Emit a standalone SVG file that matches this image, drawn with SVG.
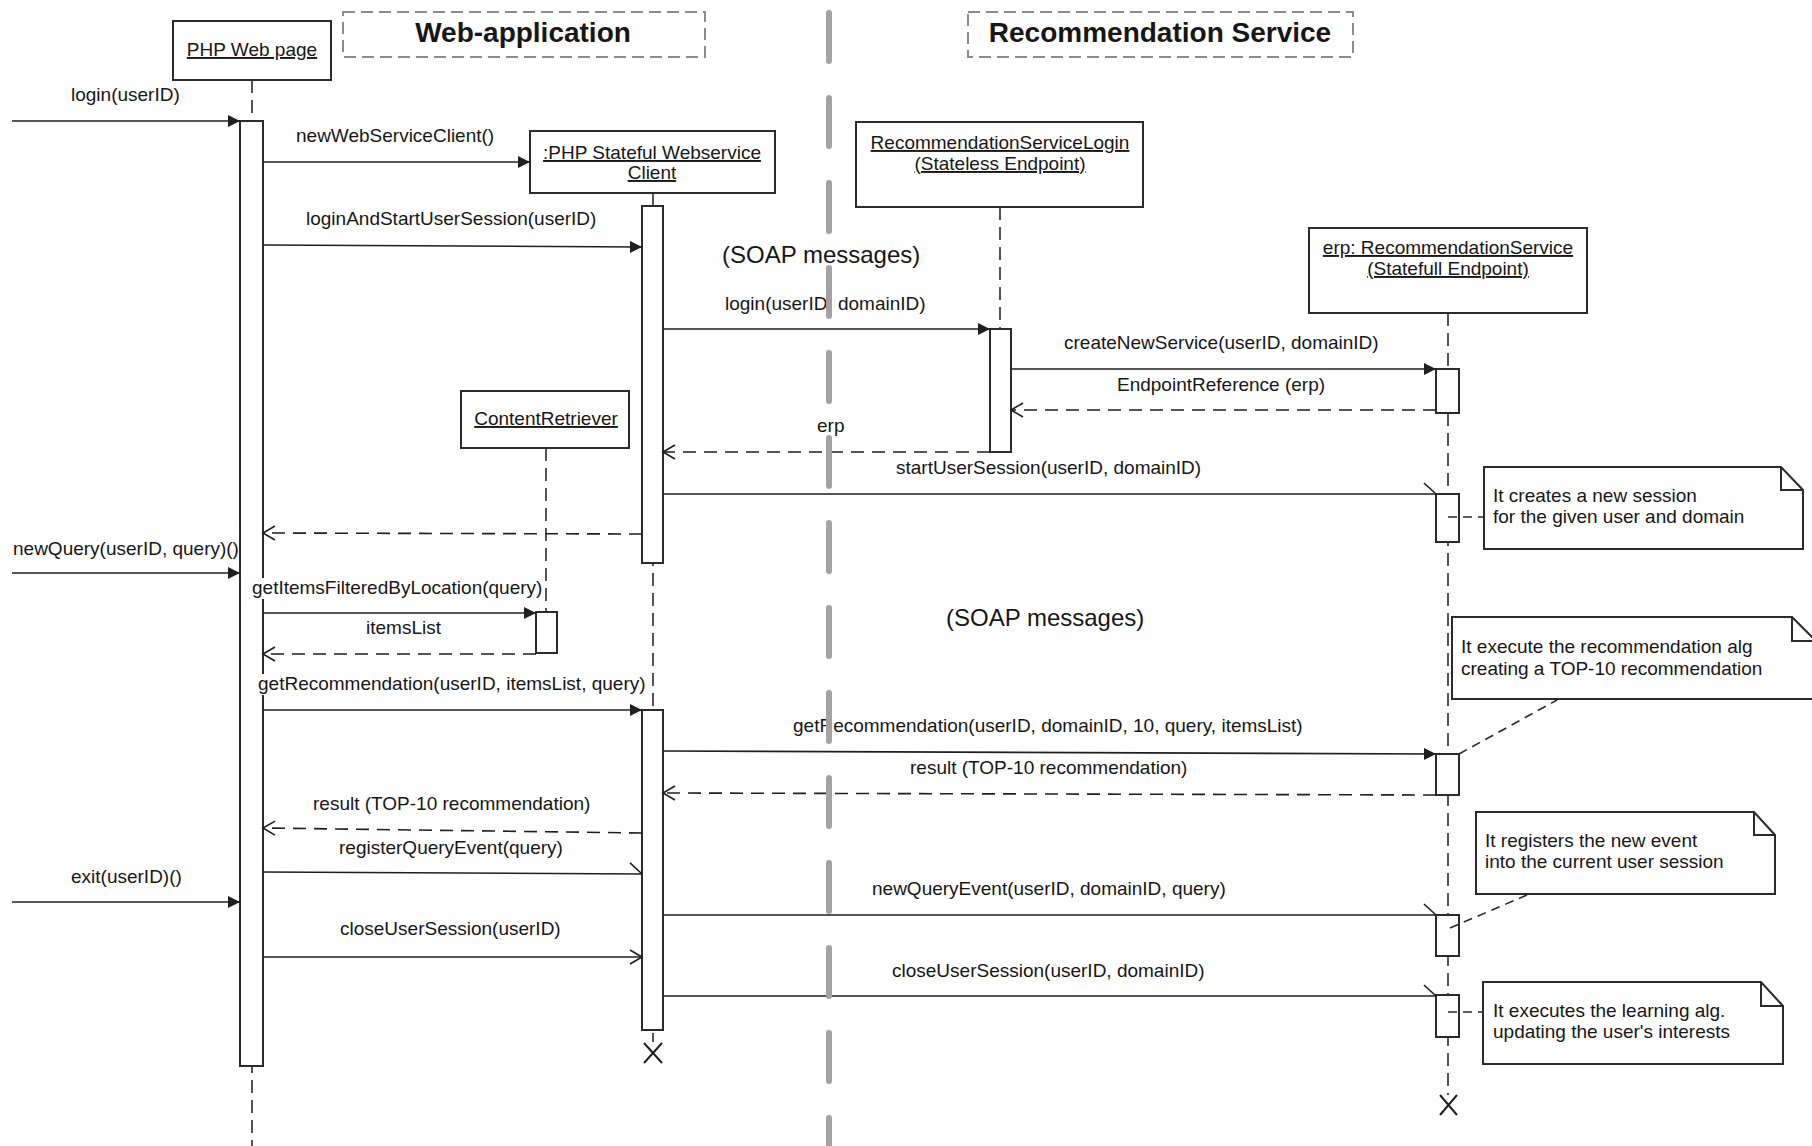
<svg xmlns="http://www.w3.org/2000/svg" width="1812" height="1146" viewBox="0 0 1812 1146">
  <defs>
    <style>
      text { font-family: "Liberation Sans", Arial, sans-serif; fill: #161616; }
      .lbl { font-size: 19px; }
      .title { font-size: 28px; font-weight: bold; text-anchor: middle; }
      .soap { font-size: 24px; }
      .head { font-size: 19px; text-anchor: middle; text-decoration: underline; }
      .note-txt { font-size: 19px; }
      .box { fill: #ffffff; stroke: #2b2b2b; stroke-width: 2; }
      .zone { fill: none; stroke: #8c8c8c; stroke-width: 2; stroke-dasharray: 12 6; }
      .life { fill: none; stroke: #2b2b2b; stroke-width: 1.6; stroke-dasharray: 13 7; }
      .act { fill: #ffffff; stroke: #2b2b2b; stroke-width: 2; }
      .msg { fill: none; stroke: #1f1f1f; stroke-width: 1.6; }
      .ret { fill: none; stroke: #1f1f1f; stroke-width: 1.6; stroke-dasharray: 13 8; }
      .sync { marker-end: url(#filled); }
      .open { marker-end: url(#openhead); }
      .half { marker-end: url(#halfhead); }
      .note { fill: #ffffff; stroke: #2b2b2b; stroke-width: 2; }
      .fold { fill: none; stroke: #2b2b2b; stroke-width: 2; }
      .anchor { fill: none; stroke: #2b2b2b; stroke-width: 1.6; stroke-dasharray: 9 6; }
      .destroy { fill: none; stroke: #1f1f1f; stroke-width: 2; }
      .divider { fill: none; stroke: #a3a3a3; stroke-width: 6; stroke-linecap: round; stroke-dasharray: 48 37; }
    </style>
    <marker id="filled" markerUnits="userSpaceOnUse" markerWidth="14" markerHeight="14" refX="12" refY="6" orient="auto">
      <path d="M0,0 L12,6 L0,12 Z" fill="#1f1f1f"/>
    </marker>
    <marker id="openhead" markerUnits="userSpaceOnUse" markerWidth="16" markerHeight="18" refX="13" refY="8" orient="auto">
      <path d="M1,1 L13,8 L1,15" fill="none" stroke="#1f1f1f" stroke-width="1.6"/>
    </marker>
    <marker id="halfhead" markerUnits="userSpaceOnUse" markerWidth="16" markerHeight="14" refX="13" refY="12" orient="auto">
      <path d="M1,1 L13,12" fill="none" stroke="#1f1f1f" stroke-width="1.6"/>
    </marker>
  </defs>

  <rect width="1812" height="1146" fill="#ffffff"/>

  <!-- zone headings -->
  <g id="zone-webapp">
    <rect class="zone" x="343" y="12" width="362" height="45"/>
    <text class="title" x="523" y="42">Web-application</text>
  </g>
  <g id="zone-recservice">
    <rect class="zone" x="968" y="12" width="385" height="45"/>
    <text class="title" x="1160" y="42">Recommendation Service</text>
  </g>

  <!-- lifelines -->
  <g id="php-web-page">
    <line class="life" x1="252" y1="80" x2="252" y2="1146"/>
    <rect class="box" x="173" y="21" width="158" height="59"/>
    <text class="head" x="252" y="56">PHP Web page</text>
    <rect class="act" x="240" y="121" width="23" height="945"/>
  </g>

  <g id="php-stateful-client">
    <line class="life" x1="653" y1="193" x2="653" y2="1042"/>
    <rect class="box" x="530" y="131" width="245" height="62"/>
    <text class="head" x="652" y="159">:PHP Stateful Webservice</text>
    <text class="head" x="652" y="179">Client</text>
    <rect class="act" x="642" y="206" width="21" height="357"/>
    <rect class="act" x="642" y="710" width="21" height="320"/>
    <path class="destroy" d="M644,1043 L662,1063 M662,1043 L644,1063"/>
  </g>

  <g id="rec-service-login">
    <line class="life" x1="1000" y1="207" x2="1000" y2="452"/>
    <rect class="box" x="856" y="122" width="287" height="85"/>
    <text class="head" x="1000" y="149">RecommendationServiceLogin</text>
    <text class="head" x="1000" y="170">(Stateless Endpoint)</text>
    <rect class="act" x="990" y="329" width="21" height="123"/>
  </g>

  <g id="content-retriever">
    <line class="life" x1="546" y1="448" x2="546" y2="653"/>
    <rect class="box" x="461" y="391" width="168" height="57"/>
    <text class="head" x="546" y="425">ContentRetriever</text>
    <rect class="act" x="536" y="612" width="21" height="41"/>
  </g>

  <g id="erp-rec-service">
    <line class="life" x1="1448" y1="313" x2="1448" y2="1095"/>
    <rect class="box" x="1309" y="228" width="278" height="85"/>
    <text class="head" x="1448" y="254">erp: RecommendationService</text>
    <text class="head" x="1448" y="275">(Statefull Endpoint)</text>
    <rect class="act" x="1436" y="369" width="23" height="44"/>
    <rect class="act" x="1436" y="494" width="23" height="48"/>
    <rect class="act" x="1436" y="754" width="23" height="41"/>
    <rect class="act" x="1436" y="915" width="23" height="41"/>
    <rect class="act" x="1436" y="995" width="23" height="42"/>
    <path class="destroy" d="M1440,1095 L1457,1115 M1457,1095 L1440,1115"/>
  </g>

  <!-- comment notes -->
  <g id="note-session">
    <path class="note" d="M1484,467 H1781 L1803,490 V549 H1484 Z"/>
    <path class="fold" d="M1781,467 V490 H1803"/>
    <text class="note-txt" x="1493" y="502">It creates a new session</text>
    <text class="note-txt" x="1493" y="523">for the given user and domain</text>
  </g>
  <g id="note-recommendation">
    <path class="note" d="M1452,617 H1792 L1816,641 V699 H1452 Z"/>
    <path class="fold" d="M1792,617 V641 H1816"/>
    <text class="note-txt" x="1461" y="653">It execute the recommendation alg</text>
    <text class="note-txt" x="1461" y="675">creating a TOP-10 recommendation</text>
  </g>
  <g id="note-event">
    <path class="note" d="M1476,812 H1754 L1775,835 V894 H1476 Z"/>
    <path class="fold" d="M1754,812 V835 H1775"/>
    <text class="note-txt" x="1485" y="847">It registers the new event</text>
    <text class="note-txt" x="1485" y="868">into the current user session</text>
  </g>
  <g id="note-learning">
    <path class="note" d="M1483,982 H1761 L1783,1006 V1064 H1483 Z"/>
    <path class="fold" d="M1761,982 V1006 H1783"/>
    <text class="note-txt" x="1493" y="1017">It executes the learning alg.</text>
    <text class="note-txt" x="1493" y="1038">updating the user's interests</text>
  </g>

  <!-- messages -->
  <g id="connectors">
    <line class="msg sync" x1="12" y1="121" x2="240" y2="121"/>
    <line class="msg sync" x1="263" y1="162" x2="530" y2="162"/>
    <line class="msg sync" x1="263" y1="245" x2="642" y2="247"/>
    <line class="msg sync" x1="663" y1="329" x2="990" y2="329"/>
    <line class="msg sync" x1="1011" y1="369" x2="1436" y2="369"/>
    <line class="ret open" x1="1436" y1="410" x2="1011" y2="410"/>
    <line class="ret open" x1="990" y1="452" x2="663" y2="452"/>
    <line class="msg half" x1="663" y1="494" x2="1436" y2="494"/>
    <line class="ret open" x1="642" y1="534" x2="263" y2="533"/>
    <line class="msg sync" x1="12" y1="573" x2="240" y2="573"/>
    <line class="msg sync" x1="263" y1="613" x2="536" y2="613"/>
    <line class="ret open" x1="536" y1="654" x2="263" y2="654"/>
    <line class="msg sync" x1="263" y1="710" x2="642" y2="710"/>
    <line class="msg sync" x1="663" y1="751" x2="1436" y2="754"/>
    <line class="ret open" x1="1436" y1="795" x2="663" y2="793"/>
    <line class="ret open" x1="642" y1="833" x2="263" y2="828"/>
    <line class="msg half" x1="263" y1="872" x2="642" y2="874"/>
    <line class="msg sync" x1="12" y1="902" x2="240" y2="902"/>
    <line class="msg half" x1="663" y1="915" x2="1436" y2="915"/>
    <line class="msg open" x1="263" y1="957" x2="642" y2="957"/>
    <line class="msg half" x1="663" y1="996" x2="1436" y2="996"/>

    <!-- note anchors -->
    <line class="anchor" x1="1448" y1="517" x2="1484" y2="517"/>
    <line class="anchor" x1="1459" y1="754" x2="1557" y2="700"/>
    <line class="anchor" x1="1450" y1="928" x2="1527" y2="895"/>
    <line class="anchor" x1="1448" y1="1012" x2="1483" y2="1012"/>
  </g>

  <!-- message labels -->
  <g id="labels">
    <text class="lbl" x="71" y="101">login(userID)</text>
    <text class="lbl" x="296" y="142">newWebServiceClient()</text>
    <text class="lbl" x="306" y="225">loginAndStartUserSession(userID)</text>
    <text class="lbl" x="725" y="310">login(userID, domainID)</text>
    <text class="lbl" x="1064" y="349">createNewService(userID, domainID)</text>
    <text class="lbl" x="1117" y="391">EndpointReference (erp)</text>
    <text class="lbl" x="817" y="432">erp</text>
    <text class="lbl" x="896" y="474">startUserSession(userID, domainID)</text>
    <text class="lbl" x="13" y="555">newQuery(userID, query)()</text>
    <rect x="252" y="578" width="292" height="21" fill="#ffffff"/>
    <text class="lbl" x="252" y="594">getItemsFilteredByLocation(query)</text>
    <text class="lbl" x="366" y="634">itemsList</text>
    <rect x="258" y="674" width="388" height="21" fill="#ffffff"/>
    <text class="lbl" x="258" y="690">getRecommendation(userID, itemsList, query)</text>
    <text class="lbl" x="793" y="732">getRecommendation(userID, domainID, 10, query, itemsList)</text>
    <text class="lbl" x="910" y="774">result (TOP-10 recommendation)</text>
    <text class="lbl" x="313" y="810">result (TOP-10 recommendation)</text>
    <text class="lbl" x="339" y="854">registerQueryEvent(query)</text>
    <text class="lbl" x="71" y="883">exit(userID)()</text>
    <text class="lbl" x="340" y="935">closeUserSession(userID)</text>
    <text class="lbl" x="872" y="895">newQueryEvent(userID, domainID, query)</text>
    <text class="lbl" x="892" y="977">closeUserSession(userID, domainID)</text>
    <text class="soap" x="722" y="263">(SOAP messages)</text>
    <text class="soap" x="946" y="626">(SOAP messages)</text>
  </g>

  <!-- boundary between the two tiers -->
  <line class="divider" x1="829" y1="13" x2="829" y2="1146"/>
</svg>
